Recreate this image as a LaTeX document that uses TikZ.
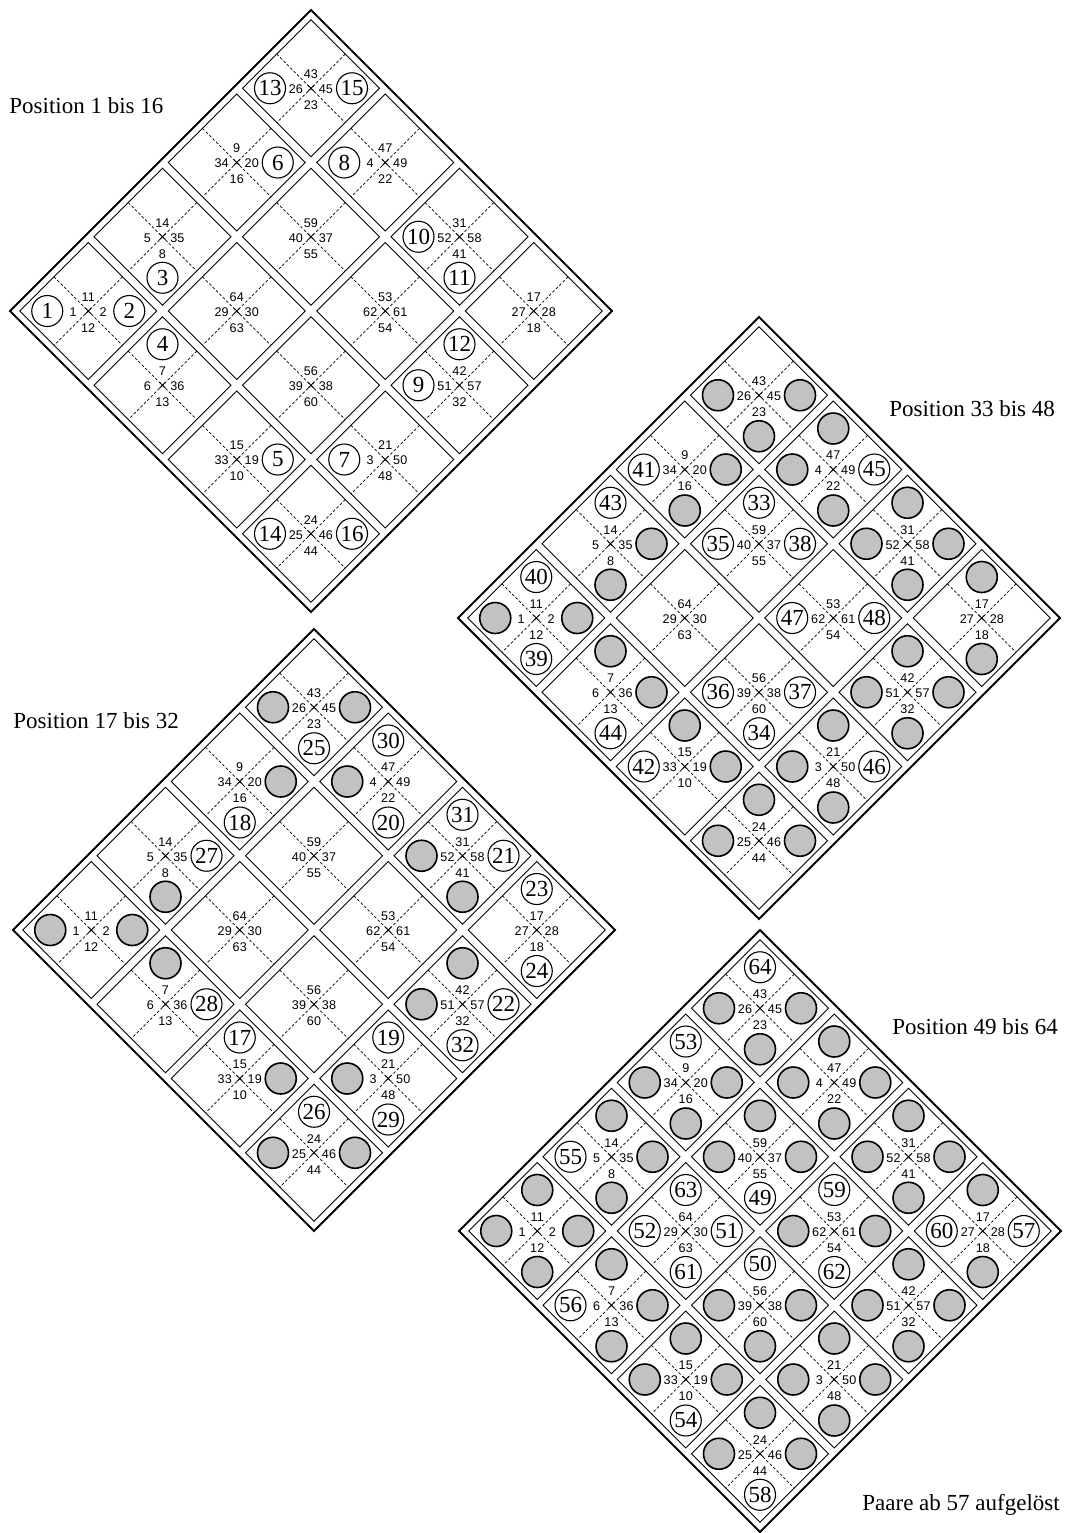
\documentclass[tikz,border=0pt]{standalone}
\usepackage{fontspec}
\setmainfont{Liberation Serif}
\newfontfamily\tourCellFont{Liberation Sans}
\begin{document}
\begin{tikzpicture}[x=0.5pt, y=-0.5pt,
  boardframe/.style={line width=1pt, line join=miter},
  cellframe/.style={line width=0.5pt},
  cellcross/.style={line width=0.35pt, dash pattern=on 1.4pt off 1pt},
  cellmark/.style={line width=0.45pt},
  cellnum/.style={inner sep=0pt, font=\tourCellFont\fontsize{6.3}{7}\selectfont},
  poscirc/.style={circle, draw, line width=0.55pt, minimum size=15.5pt, inner sep=0pt, font=\fontsize{11.5}{12}\selectfont},
  usedcirc/.style={circle, draw, line width=0.8pt, fill=black!24, minimum size=15.5pt, inner sep=0pt},
  boardlabel/.style={anchor=base west, inner sep=0pt, font=\fontsize{11.5}{13}\selectfont}]
% Knight tour boards, four stages
\def\tourCellStep{74.25}
\def\tourCellHalf{68.5}
\def\tourBoardHalf{301}
\def\tourCircOff{41}
% Cell numbers: a/b/top/left/right/bottom
\def\tourCellNumbers{0/0/43/26/45/23, 0/1/9/34/20/16, 1/0/47/4/49/22,
  0/2/14/5/35/8, 1/1/59/40/37/55, 2/0/31/52/58/41,
  0/3/11/1/2/12, 1/2/64/29/30/63, 2/1/53/62/61/54, 3/0/17/27/28/18,
  1/3/7/6/36/13, 2/2/56/39/38/60, 3/1/42/51/57/32,
  2/3/15/33/19/10, 3/2/21/3/50/48, 3/3/24/25/46/44}
% Positions: n/a/b/dx/dy
\def\tourPositions{1/0/3/-1/0, 2/0/3/1/0, 3/0/2/0/1, 4/1/3/0/-1,
  5/2/3/1/0, 6/0/1/1/0, 7/3/2/-1/0, 8/1/0/-1/0,
  9/3/1/-1/0, 10/2/0/-1/0, 11/2/0/0/1, 12/3/1/0/-1,
  13/0/0/-1/0, 14/3/3/-1/0, 15/0/0/1/0, 16/3/3/1/0,
  17/2/3/0/-1, 18/0/1/0/1, 19/3/2/0/-1, 20/1/0/0/1,
  21/2/0/1/0, 22/3/1/1/0, 23/3/0/0/-1, 24/3/0/0/1,
  25/0/0/0/1, 26/3/3/0/-1, 27/0/2/1/0, 28/1/3/1/0,
  29/3/2/0/1, 30/1/0/0/-1, 31/2/0/0/-1, 32/3/1/0/1,
  33/1/1/0/-1, 34/2/2/0/1, 35/1/1/-1/0, 36/2/2/-1/0,
  37/2/2/1/0, 38/1/1/1/0, 39/0/3/0/1, 40/0/3/0/-1,
  41/0/1/-1/0, 42/2/3/-1/0, 43/0/2/0/-1, 44/1/3/0/1,
  45/1/0/1/0, 46/3/2/1/0, 47/2/1/-1/0, 48/2/1/1/0,
  49/1/1/0/1, 50/2/2/0/-1, 51/1/2/1/0, 52/1/2/-1/0,
  53/0/1/0/-1, 54/2/3/0/1, 55/0/2/-1/0, 56/1/3/-1/0,
  57/3/0/1/0, 58/3/3/0/1, 59/2/1/0/-1, 60/3/0/-1/0,
  61/1/2/0/1, 62/2/1/0/1, 63/1/2/0/-1, 64/0/0/0/-1}
\def\drawTourBoard#1#2{%
  \begin{scope}[shift={#2}]
    % Outer frame
    \draw[boardframe] (0,-\tourBoardHalf) -- (\tourBoardHalf,0) -- (0,\tourBoardHalf) -- (-\tourBoardHalf,0) -- cycle;
    % Cells with dashed cross and numbers
    \foreach \ca/\cb/\nt/\nl/\nr/\nb in \tourCellNumbers {
      \pgfmathsetmacro\cx{(\ca-\cb)*\tourCellStep}
      \pgfmathsetmacro\cy{(\ca+\cb-3)*\tourCellStep}
      \draw[cellframe] (\cx,{\cy-\tourCellHalf}) -- ({\cx+\tourCellHalf},\cy) -- (\cx,{\cy+\tourCellHalf}) -- ({\cx-\tourCellHalf},\cy) -- cycle;
      \draw[cellcross] ({\cx-\tourCellHalf/2},{\cy-\tourCellHalf/2}) -- ({\cx+\tourCellHalf/2},{\cy+\tourCellHalf/2});
      \draw[cellcross] ({\cx+\tourCellHalf/2},{\cy-\tourCellHalf/2}) -- ({\cx-\tourCellHalf/2},{\cy+\tourCellHalf/2});
      \draw[cellmark] ({\cx-3},{\cy-3}) -- ({\cx+3},{\cy+3}) ({\cx+3},{\cy-3}) -- ({\cx-3},{\cy+3});
      \node[cellnum] (#1-\ca\cb-t) at (\cx,{\cy-14}) {\nt};
      \node[cellnum] (#1-\ca\cb-l) at ({\cx-15},{\cy+1}) {\nl};
      \node[cellnum] (#1-\ca\cb-r) at ({\cx+15},{\cy+1}) {\nr};
      \node[cellnum] (#1-\ca\cb-b) at (\cx,{\cy+17}) {\nb};
    }
    % Circle places
    \foreach \n/\ca/\cb/\du/\dv in \tourPositions {
      \coordinate (#1-p\n) at ({(\ca-\cb)*\tourCellStep+\du*\tourCircOff},{(\ca+\cb-3)*\tourCellStep+\dv*\tourCircOff});
    }
  \end{scope}
}
\useasboundingbox (0,0) rectangle (1066,1533);
% Board 1 to 16
\drawTourBoard{bA}{(311,311)}
\foreach \n in {1,...,16} \node[poscirc] (bA-c\n) at (bA-p\n) {\n};
\node[boardlabel] (labA) at (9,113) {Position 1 bis 16};
% Board 33 to 48
\drawTourBoard{bB}{(759,618)}
\foreach \n in {1,...,32} \node[usedcirc] (bB-g\n) at (bB-p\n) {};
\foreach \n in {33,...,48} \node[poscirc] (bB-c\n) at (bB-p\n) {\n};
\node[boardlabel] (labB) at (889,416) {Position 33 bis 48};
% Board 17 to 32
\drawTourBoard{bC}{(314,930)}
\foreach \n in {1,...,16} \node[usedcirc] (bC-g\n) at (bC-p\n) {};
\foreach \n in {17,...,32} \node[poscirc] (bC-c\n) at (bC-p\n) {\n};
\node[boardlabel] (labC) at (13,728) {Position 17 bis 32};
% Board 49 to 64
\drawTourBoard{bD}{(760,1231)}
\foreach \n in {1,...,48} \node[usedcirc] (bD-g\n) at (bD-p\n) {};
\foreach \n in {49,...,64} \node[poscirc] (bD-c\n) at (bD-p\n) {\n};
\node[boardlabel] (labD) at (892,1034) {Position 49 bis 64};
\node[boardlabel] (labE) at (862,1510) {Paare ab 57 aufgelöst};
\end{tikzpicture}
\end{document}
